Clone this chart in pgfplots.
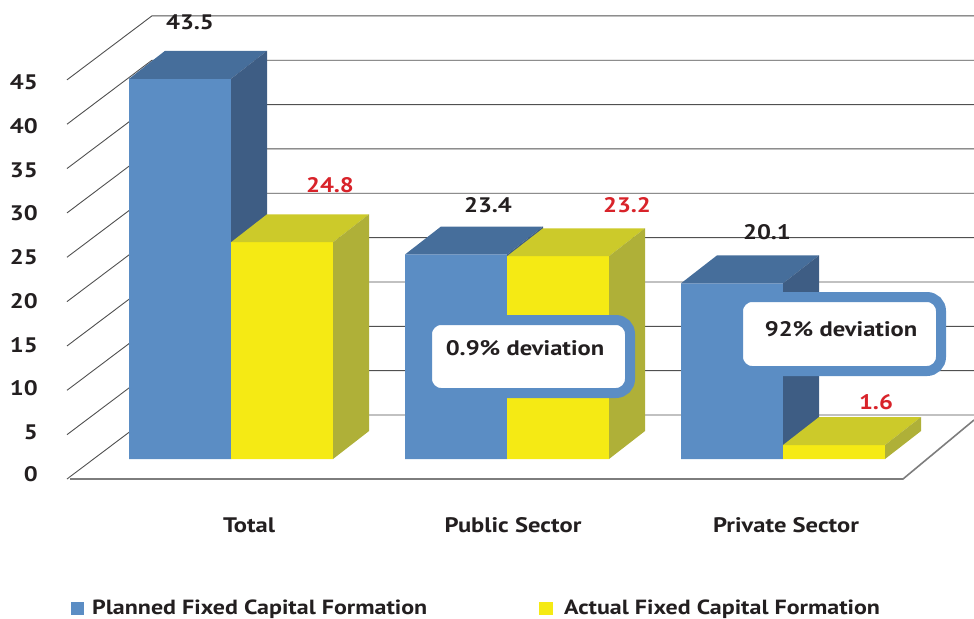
\documentclass[border=0pt]{standalone}
\usepackage{pgfplots}
\pgfplotsset{compat=1.18}
\usepackage{fontspec}
\setmainfont{PT Sans}[FakeStretch=1.17]
\definecolor{bluefront}{RGB}{91,141,196}
\definecolor{bluetop}{RGB}{70,110,155}
\definecolor{blueside}{RGB}{62,93,132}
\definecolor{yelfront}{RGB}{245,234,20}
\definecolor{yeltop}{RGB}{204,202,42}
\definecolor{yelside}{RGB}{175,176,56}
\definecolor{redlab}{RGB}{216,35,42}
\definecolor{darktext}{RGB}{35,31,32}
\definecolor{gridc}{RGB}{80,80,80}
\definecolor{floorc}{RGB}{125,125,125}
\begin{document}
\begin{tikzpicture}
% ---- 3D grid (pixel frame: origin top-left, y down)
\begin{scope}[x=1pt,y=-1pt]
  \clip (0,0) rectangle (974,618);
  \foreach \t in {0,5,...,45}{
    \draw[gridc, line width=0.9pt] (67,{479-8.87*\t}) -- (152,{415-8.87*\t}) -- (980,{415-8.87*\t});
  }
  \draw[floorc, line width=1.6pt] (70,479) -- (903,479) -- (974,420);
\end{scope}
% ---- bars
\begin{axis}[at={(0,0)}, anchor=north west,
  width=974pt, height=618pt, scale only axis,
  xmin=0, xmax=974, ymin=-18.192, ymax=52.517,
  hide axis, clip=false]
% Planned fixed capital formation (front faces)
\addplot[ybar, bar width=102, bar shift=0pt, fill=bluefront, draw=none]
  coordinates {(180,43.5) (456,23.4) (732,20.1)};
% top faces
\addplot[fill=bluetop, draw=none] coordinates {(129,43.5) (231,43.5) (267,46.7) (165,46.7)};
\addplot[fill=bluetop, draw=none] coordinates {(405,23.4) (507,23.4) (543,26.6) (441,26.6)};
\addplot[fill=bluetop, draw=none] coordinates {(681,20.1) (783,20.1) (819,23.3) (717,23.3)};
% side faces
\addplot[fill=blueside, draw=none] coordinates {(231,0) (267,3.2) (267,46.7) (231,43.5)};
\addplot[fill=blueside, draw=none] coordinates {(507,0) (543,3.2) (543,26.6) (507,23.4)};
\addplot[fill=blueside, draw=none] coordinates {(783,0) (819,3.2) (819,23.3) (783,20.1)};
% Actual fixed capital formation (front faces)
\addplot[ybar, bar width=102, bar shift=0pt, fill=yelfront, draw=none]
  coordinates {(282,24.8) (558,23.2) (834,1.6)};
\addplot[fill=yeltop, draw=none] coordinates {(231,24.8) (333,24.8) (369,28.0) (267,28.0)};
\addplot[fill=yeltop, draw=none] coordinates {(507,23.2) (609,23.2) (645,26.4) (543,26.4)};
\addplot[fill=yeltop, draw=none] coordinates {(783,1.6) (885,1.6) (921,4.8) (819,4.8)};
\addplot[fill=yelside, draw=none] coordinates {(333,0) (369,3.2) (369,28.0) (333,24.8)};
\addplot[fill=yelside, draw=none] coordinates {(609,0) (645,3.2) (645,26.4) (609,23.2)};
\addplot[fill=yelside, draw=none] coordinates {(885,0) (921,3.2) (921,4.8) (885,1.6)};
\end{axis}
% ---- annotations
\begin{scope}[x=1pt,y=-1pt, every node/.style={inner sep=0pt, font=\fontsize{21}{25}\selectfont\bfseries, text=darktext}]
  % tick labels
  \foreach \v/\yy in {45/82,40/126,35/170,30/213,25/257,20/301,15/345,10/388,5/432,0/474}{
    \node[anchor=east] at (38,\yy) {\v};
  }
  % value labels
  \node at (190,22) {43.5};
  \node[text=redlab] at (330,185) {24.8};
  \node at (488,205) {23.4};
  \node[text=redlab] at (627,205) {23.2};
  \node at (767,232) {20.1};
  \node[text=redlab] at (876,402) {1.6};
  % category labels
  \node at (249,525) {Total};
  \node at (513,525) {Public Sector};
  \node at (786,525) {Private Sector};
  % callouts
  \draw[bluefront, line width=10pt, fill=white, rounded corners=14pt] (427,320) rectangle (630,393);
  \node at (525,348) {0.9\% deviation};
  \draw[bluefront, line width=10pt, fill=white, rounded corners=14pt] (738,297) rectangle (941,371);
  \node at (841,329) {92\% deviation};
  % legend
  \fill[bluefront] (71,602) rectangle (84,615);
  \node[anchor=base west] at (92,614) {\fontsize{20.5}{24}\selectfont Planned Fixed Capital Formation};
  \fill[yelfront] (539,602) rectangle (553,615);
  \node[anchor=base west] at (564,614) {\fontsize{20.5}{24}\selectfont Actual Fixed Capital Formation};
\end{scope}
\end{tikzpicture}
\end{document}
